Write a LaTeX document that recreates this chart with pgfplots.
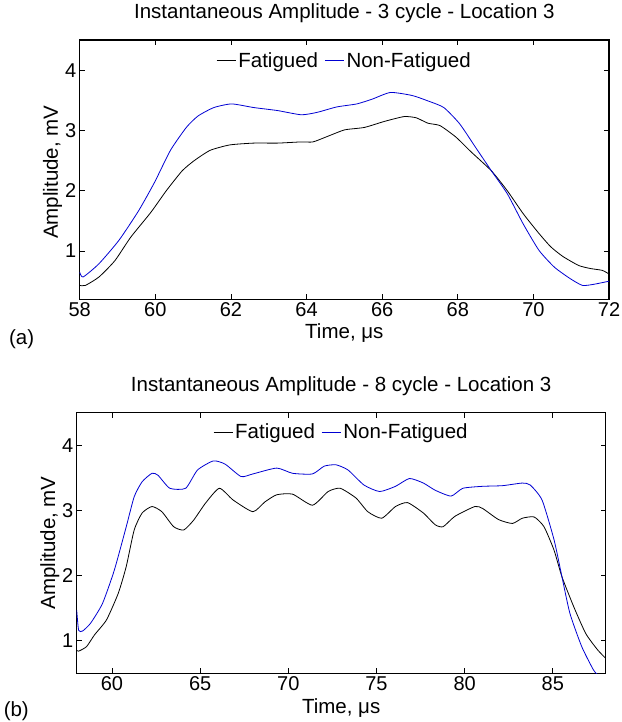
\documentclass[border=0pt]{standalone}
\usepackage{fontspec}
\setmainfont{Liberation Sans}
\usepackage{pgfplots}
\pgfplotsset{compat=1.18}
\definecolor{mblue}{RGB}{0,0,210}
\newcommand{\tf}{\fontsize{20}{22}\selectfont}
\newcommand{\lf}{\fontsize{20.5}{23}\selectfont}
\pgfplotsset{
  myax/.style={
    scale only axis,
    /pgf/number format/assume math mode=true,
    tick label style={font=\tf},
    label style={font=\lf},
    title style={font=\lf},
    axis line style={line width=1.1pt},
    tick style={line width=0.8pt, black},
    major tick length=5pt,
    tick align=inside,
    xtick pos=both, ytick pos=both,
    ytick={1,2,3,4},
    legend columns=2,
    legend style={draw=none, fill=none, font=\lf, at={(0.5,1)}, anchor=center,
      nodes={inner xsep=2pt, inner ysep=1pt},
      /tikz/every even column/.append style={column sep=4pt}},
    legend image code/.code={\draw[#1, line width=1.4pt] (0pt,0pt) -- (19pt,0pt);},
    clip mode=individual,
    every axis plot/.append style={line width=0.8pt, smooth, tension=0.35},
  }
}
\begin{document}
\begin{tikzpicture}
\useasboundingbox (0,0) rectangle (621pt,722pt);
% ---------------- (a)
\begin{axis}[myax,
  at={(79.7pt,422.7pt)}, anchor=south west,
  width=529.3pt, height=259.3pt,
  xmin=58, xmax=72, ymin=0.2, ymax=4.5,
  xtick={58,60,...,72},
  title={Instantaneous Amplitude - 3 cycle - Location 3},
  title style={at={(axis description cs:0.5,1)}, anchor=base, yshift=15pt},
  xlabel={Time, μs},
  xlabel style={at={(axis description cs:0.5,0)}, anchor=base, yshift=-39pt},
  ylabel={Amplitude, mV},
  ylabel style={at={(axis description cs:-0.041,0.49)}, anchor=base},
  legend style={yshift=-20.7pt},
]
\addplot[black] coordinates {
(58.0,0.43) (58.15,0.43) (58.51,0.57) (58.93,0.84) (59.35,1.23) (59.88,1.64)
(60.29,2.0) (60.71,2.33) (61.03,2.5) (61.45,2.67) (61.97,2.76) (62.6,2.79)
(63.23,2.79) (63.86,2.81) (64.17,2.81) (64.59,2.91) (65.01,3.01) (65.53,3.05)
(66.06,3.15) (66.58,3.23) (66.9,3.21) (67.21,3.12) (67.53,3.08) (67.95,2.89)
(68.36,2.64) (68.89,2.33) (69.31,2.0) (69.73,1.62) (70.15,1.29) (70.46,1.07)
(70.78,0.91) (71.2,0.76) (71.51,0.71) (71.82,0.68) (72.0,0.62)
};
\addlegendentry{Fatigued}
\addplot[mblue] coordinates {
(58.0,0.65) (58.09,0.57) (58.51,0.79) (59.04,1.18) (59.56,1.67) (59.98,2.14)
(60.4,2.67) (60.82,3.05) (61.13,3.24) (61.55,3.38) (62.02,3.44) (62.6,3.38)
(63.23,3.33) (63.86,3.26) (64.28,3.30) (64.8,3.39) (65.33,3.44) (65.74,3.52)
(66.22,3.63) (66.79,3.58) (67.21,3.49) (67.63,3.38) (68.05,3.11) (68.47,2.72)
(68.89,2.33) (69.31,1.95) (69.73,1.45) (70.15,1.01) (70.56,0.73) (70.98,0.54)
(71.3,0.43) (71.61,0.45) (72.0,0.50)
};
\addlegendentry{Non-Fatigued}
\end{axis}
% ---------------- (b)
\begin{axis}[myax,
  at={(76.7pt,48.7pt)}, anchor=south west,
  width=529pt, height=260.6pt,
  xmin=58, xmax=88, ymin=0.5, ymax=4.5,
  xtick={60,65,...,85},
  title={Instantaneous Amplitude - 8 cycle - Location 3},
  title style={at={(axis description cs:0.5,1)}, anchor=base, yshift=15.5pt},
  xlabel={Time, μs},
  xlabel style={at={(axis description cs:0.5,0)}, anchor=base, yshift=-40pt},
  ylabel={Amplitude, mV},
  ylabel style={at={(axis description cs:-0.041,0.5)}, anchor=base},
  legend style={yshift=-19.6pt},
]
\addplot[black] coordinates {
(57.96,0.86) (58.11,0.84) (58.56,0.91) (59.01,1.09) (59.69,1.32) (60.36,1.73)
(60.81,2.14) (61.26,2.70) (61.71,2.96) (62.27,3.06) (62.83,2.98) (63.5,2.75)
(64.07,2.70) (64.63,2.85) (65.3,3.11) (66.09,3.34) (66.87,3.16) (67.99,2.98)
(68.67,3.13) (69.34,3.24) (70.24,3.25) (71.37,3.08) (72.26,3.29) (72.94,3.34)
(73.84,3.19) (74.51,2.98) (75.3,2.88) (76.08,3.06) (76.76,3.12) (77.66,2.96)
(78.33,2.78) (78.78,2.75) (79.45,2.91) (80.58,3.06) (81.02,3.03) (81.92,2.86)
(82.71,2.80) (83.27,2.88) (83.94,2.90) (84.5,2.75) (85.07,2.39) (85.52,1.98)
(86.19,1.52) (86.87,1.11) (87.54,0.86) (88.0,0.73)
};
\addlegendentry{Fatigued}
\addplot[mblue] coordinates {
(58.0,1.47) (58.11,1.16) (58.34,1.15) (58.79,1.27) (59.46,1.57) (60.13,2.08)
(60.81,2.75) (61.26,3.21) (61.71,3.44) (62.27,3.57) (62.61,3.54) (63.28,3.34)
(64.18,3.34) (64.85,3.62) (65.75,3.76) (66.42,3.71) (67.32,3.52) (67.99,3.56)
(69.34,3.65) (70.24,3.57) (71.37,3.56) (72.04,3.68) (72.71,3.70) (73.39,3.62)
(74.29,3.39) (75.18,3.29) (76.08,3.37) (76.87,3.49) (77.66,3.42) (78.33,3.31)
(79.23,3.22) (79.9,3.34) (81.02,3.37) (82.15,3.38) (83.27,3.42) (83.72,3.39)
(84.39,3.16) (85.07,2.55) (85.52,1.98) (85.97,1.42) (86.64,0.91) (87.31,0.55)
(87.65,0.45)
};
\addlegendentry{Non-Fatigued}
\end{axis}
\node[font=\lf, anchor=center] at (21.7pt,383pt) {(a)};
\node[font=\lf, anchor=center] at (16.3pt,11pt) {(b)};
\end{tikzpicture}
\end{document}
